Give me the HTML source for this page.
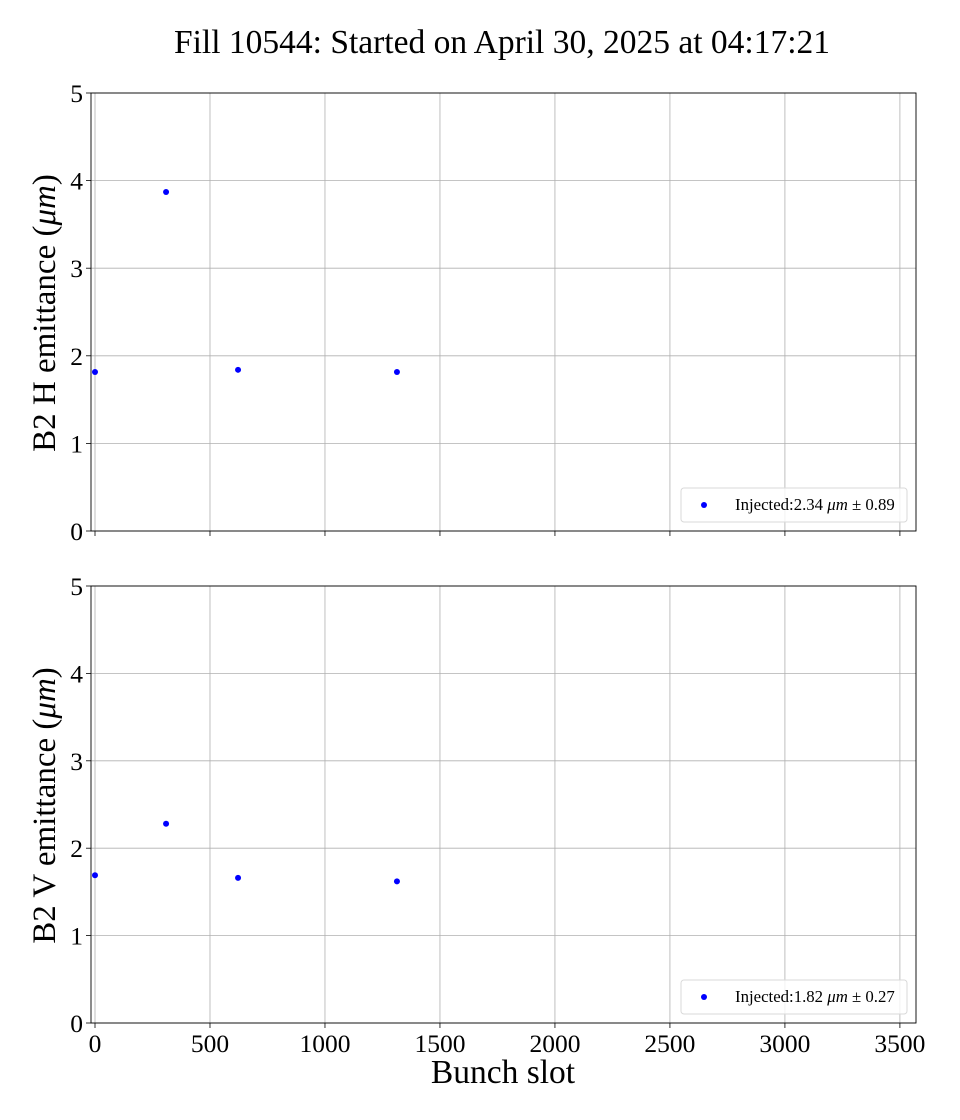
<!DOCTYPE html>
<html><head><meta charset="utf-8"><style>
body{margin:0;background:#fff;}
svg{display:block;font-family:"Liberation Serif",serif;}
</style></head><body>
<svg id="chart" width="960" height="1120" viewBox="0 0 960 1120" xmlns="http://www.w3.org/2000/svg">
<text x="502" y="53" font-size="33.5" text-anchor="middle">Fill 10544: Started on April 30, 2025 at 04:17:21</text>
<text x="503" y="1083" font-size="33.5" text-anchor="middle">Bunch slot</text>
</svg>
<script>
const slots = [0, 309, 622, 1313];
const hValues = [1.815, 3.87, 1.84, 1.815];
const vValues = [1.69, 2.28, 1.66, 1.62];
const xTicks = [0, 500, 1000, 1500, 2000, 2500, 3000, 3500];
const yTicks = [0, 1, 2, 3, 4, 5];
const panelLabels = ["B2 H emittance (", "B2 V emittance ("];
const legendLabels = ["Injected:2.34 ", "Injected:1.82 "];
const legendErr = [" \u00b1 0.89", " \u00b1 0.27"];

const NS = "http://www.w3.org/2000/svg";
const svg = document.getElementById("chart");
const X0 = 91, X1 = 916, XMIN = -17.4, XMAX = 3570;
const xs = v => X0 + (v - XMIN) / (XMAX - XMIN) * (X1 - X0);
function mk(tag, attrs, parent) {
  const e = document.createElementNS(NS, tag);
  for (const k in attrs) e.setAttribute(k, attrs[k]);
  (parent || svg).appendChild(e);
  return e;
}
const panels = [{top: 93, bot: 531, data: hValues, showX: false}, {top: 586, bot: 1023, data: vValues, showX: true}];
panels.forEach((p, i) => {
  const ys = v => p.bot - v / 5 * (p.bot - p.top);
  const g = mk("g", {});
  
  
  xTicks.forEach(t => {
    const x = xs(t);
    const gl = mk("line", {x1: x, x2: x, y1: p.top, y2: p.bot, stroke: "#b0b0b0", "stroke-width": 0.8}, g);
    
    
    mk("line", {x1: x, x2: x, y1: p.bot, y2: p.bot + 5, stroke: "#000", "stroke-width": 0.8}, g);
    if (p.showX) {
      const tl = mk("text", {x: x, y: p.bot + 29, "font-size": 25.5, "text-anchor": "middle"}, g);
      tl.textContent = t;
      
      
    }
  });
  yTicks.forEach(t => {
    const y = ys(t);
    const gl = mk("line", {x1: X0, x2: X1, y1: y, y2: y, stroke: "#b0b0b0", "stroke-width": 0.8}, g);
    
    
    mk("line", {x1: X0 - 5, x2: X0, y1: y, y2: y, stroke: "#000", "stroke-width": 0.8}, g);
    const tl = mk("text", {x: X0 - 8, y: y + 9, "font-size": 25.5, "text-anchor": "end"}, g);
    tl.textContent = t;
    
    
  });
  const fr = mk("rect", {x: X0, y: p.top, width: X1 - X0, height: p.bot - p.top, fill: "none", stroke: "#000", "stroke-width": 0.9}, g);
  
  
  p.data.forEach((v, j) => {
    const c = mk("circle", {cx: xs(slots[j]), cy: ys(v), r: 3, fill: "#0000ff"}, g);
    
    
  });
  const cy = (p.top + p.bot) / 2;
  const yl = mk("text", {x: 0, y: 0, "font-size": 33, "text-anchor": "middle", transform: `translate(55,${cy + 1}) rotate(-90)`}, g);
  
  
  const a = mk("tspan", {}, yl); a.textContent = panelLabels[i];
  const b = mk("tspan", {"font-style": "italic"}, yl); b.textContent = "\u03bcm";
  const c2 = mk("tspan", {}, yl); c2.textContent = ")";
  const lg = mk("g", {}, g);
  
  
  mk("rect", {x: 681, y: p.bot - 43, width: 226, height: 34, rx: 3, fill: "#fff", "fill-opacity": 0.8, stroke: "#d9d9d9"}, lg);
  mk("circle", {cx: 704, cy: p.bot - 26, r: 3, fill: "#0000ff"}, lg);
  const lt = mk("text", {x: 735, y: p.bot - 21, "font-size": 16.8}, lg);
  
  
  const t1 = mk("tspan", {}, lt); t1.textContent = legendLabels[i];
  const t2 = mk("tspan", {"font-style": "italic"}, lt); t2.textContent = "\u03bcm";
  const t3 = mk("tspan", {}, lt); t3.textContent = legendErr[i];
});
</script>
</body></html>
